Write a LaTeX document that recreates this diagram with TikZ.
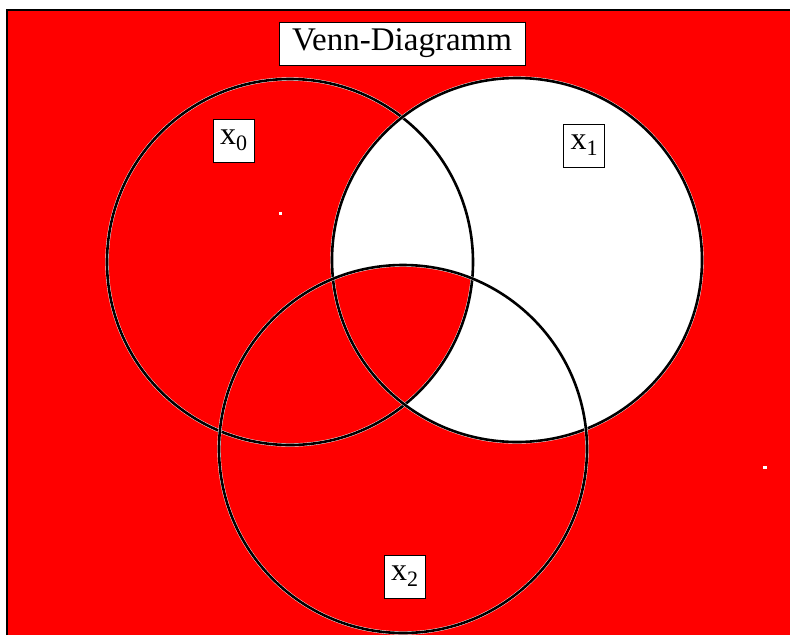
\documentclass[tikz,border=0pt]{standalone}
\usepackage{fontspec}
\setmainfont{Liberation Serif}
\usetikzlibrary{positioning}
\definecolor{vennred}{RGB}{255,0,0}
\definecolor{framecolor}{RGB}{0,0,0}
\tikzset{
labelbox/.style={
  draw,
  fill=white,
  line width=0.9pt,
  inner sep=0pt,
  minimum width=41pt,
  minimum height=43pt,
  font=\fontsize{32}{36}\selectfont
},
titlebox/.style={
  labelbox,
  minimum width=246pt,
  font=\fontsize{33}{38}\selectfont
},
setcircle/.style={
  draw=white,
  line width=0.4pt,
  double=black,
  double distance=2.6pt
}
}
\newcommand{\setname}[1]{x\raisebox{-6pt}{\fontsize{22}{24}\selectfont #1}}

\begin{document}
\begin{tikzpicture}[x=1pt,y=-1pt]
  \useasboundingbox (0,0) rectangle (790,635);
  % background with frame on top and left
  \fill[vennred] (7,10) rectangle (790,635);
  \draw[framecolor, line width=2pt] (7,635) -- (7,10) -- (790,10);
  \fill[white] (279,212) rectangle (282,215);
  \fill[white] (763,466) rectangle (767,469);
  % the three sets
  \coordinate (c0) at (290,262);
  \coordinate (c1) at (517,260);
  \coordinate (c2) at (403,449);
  \fill[white] (c1) ellipse[x radius=185, y radius=182];
  \begin{scope}
    \clip (c0) circle[radius=183];
    \fill[vennred] (c2) circle[radius=184];
  \end{scope}
  \draw[setcircle] (c0) circle[radius=183];
  \draw[setcircle] (c1) ellipse[x radius=185, y radius=182];
  \draw[setcircle] (c2) circle[radius=184];
  % labels
  \node[titlebox] (title) at (402,43.5) {Venn-Diagramm};
  \node[labelbox] (x0) at (233.5,140.5) {\setname{0}};
  \node[labelbox] (x1) at (584,145.5) {\setname{1}};
  \node[labelbox] (x2) at (404.5,576.5) {\setname{2}};
\end{tikzpicture}
\end{document}
